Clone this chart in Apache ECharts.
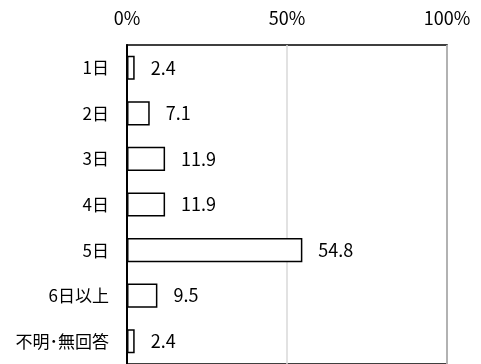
<!DOCTYPE html>
<html lang="ja">
<head>
<meta charset="UTF-8" />
<title>日数</title>
<script src="https://cdn.jsdelivr.net/npm/echarts/dist/echarts.min.js"></script>
<style>
    body { margin: 0; background: #fff; }
    #chart { width: 481px; height: 364px; }
</style>
</head>
<body>
<div id="chart"></div>
<script>
    // 集計データ
    const categories = ['1日', '2日', '3日', '4日', '5日', '6日以上', '不明･無回答'];
    const values = [2.4, 7.1, 11.9, 11.9, 54.8, 9.5, 2.4];
    const tickValues = [0, 50, 100];

    const font = '"Noto Sans CJK JP", "Noto Sans", sans-serif';
    const myChart = echarts.init(document.getElementById('chart'));

    const option = {
        animation: false,
        grid: {
            left: 127, right: 34, top: 45, bottom: -1,
            show: true, borderColor: '#000', borderWidth: 1.5,
            backgroundColor: 'transparent'
        },
        xAxis: {
            type: 'value',
            position: 'top',
            min: tickValues[0],
            max: tickValues[tickValues.length - 1],
            interval: 50,
            axisLine: { show: false },
            axisTick: { show: false },
            axisLabel: {
                formatter: '{value}%', color: '#000',
                fontSize: 18, fontFamily: font, margin: 18
            },
            splitLine: { lineStyle: { color: '#d9d9d9', width: 1.5 } }
        },
        yAxis: {
            type: 'category',
            data: categories,
            inverse: true,
            axisLine: { lineStyle: { color: '#000', width: 2 } },
            axisTick: { show: false },
            axisLabel: { color: '#000', fontSize: 17, fontFamily: font, margin: 18 }
        },
        series: [{
            type: 'bar',
            data: values,
            barWidth: '53%',
            itemStyle: { color: '#fff', borderColor: '#000', borderWidth: 1.5 },
            label: {
                show: true, position: 'right', distance: 16,
                color: '#000', fontSize: 18, fontFamily: font,
                formatter: p => p.value.toFixed(1)
            }
        }]
    };

    myChart.setOption(option);
</script>
</body>
</html>
